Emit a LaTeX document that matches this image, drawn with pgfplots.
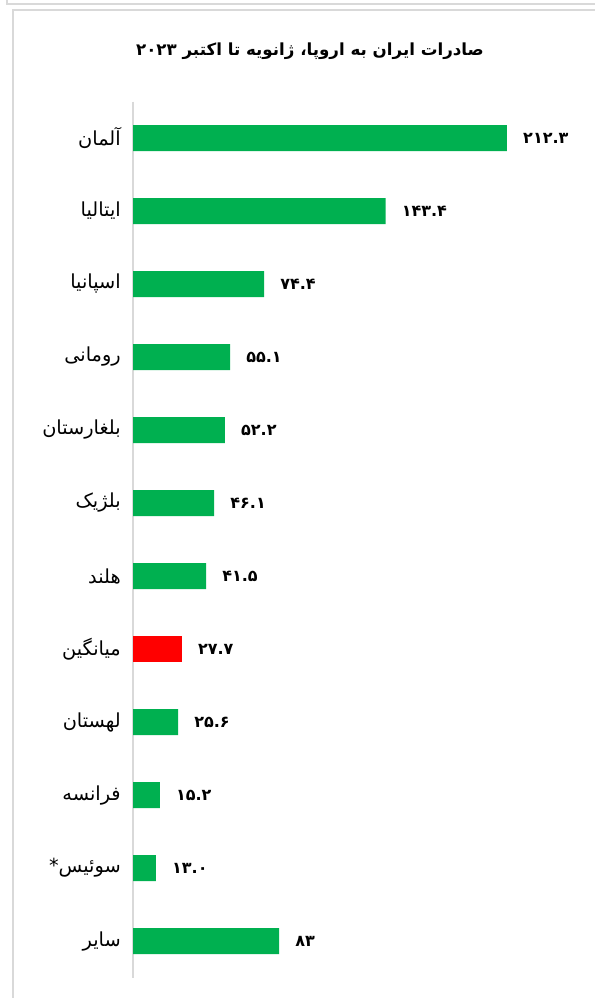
\documentclass[border=0pt]{standalone}
\usepackage{fontspec}
\usepackage{pgfplots}
\pgfplotsset{compat=1.18}
\TeXXeTstate=1
\newfontfamily\arabicfont[Script=Arabic]{DejaVu Sans}
\definecolor{xgreen}{HTML}{00B050}
\definecolor{xred}{HTML}{FF0000}
\definecolor{frame}{HTML}{D9D9D9}
\begin{document}
\begin{tikzpicture}
\useasboundingbox (0,0) rectangle (446.25pt,-748.5pt);
\draw[frame, line width=1.1pt] (5.25pt,0pt) -- (5.25pt,-3pt) -- (446.25pt,-3pt);
\draw[frame, line width=1.1pt] (9.75pt,-748.5pt) -- (9.75pt,-7.5pt) -- (446.25pt,-7.5pt);
\node[font=\arabicfont\bfseries\fontsize{12.5}{15}\selectfont, inner sep=0pt] at (232.5pt,-38.25pt)
  {\beginR صادرات ایران به اروپا، ژانویه تا اکتبر \beginL۲۰۲۳\endL\endR};
\begin{axis}[
  at={(99.75pt,-76.125pt)}, anchor=north west,
  scale only axis, width=343.5pt, height=657pt,
  xmin=0, xmax=260, ymin=-0.5, ymax=11.5, y dir=reverse,
  axis x line=none, axis y line*=left,
  y axis line style={-, draw=frame, line width=1.1pt},
  major tick length=0pt,
  ytick={0,...,11},
  yticklabels={{\beginR آلمان\endR},{\beginR ایتالیا\endR},{\beginR اسپانیا\endR},{\beginR رومانی\endR},{\beginR بلغارستان\endR},{\beginR بلژیک\endR},{\beginR هلند\endR},{\beginR میانگین\endR},{\beginR لهستان\endR},{\beginR فرانسه\endR},{\beginR سوئیس*\endR},{\beginR سایر\endR}},
  yticklabel style={font=\arabicfont\fontsize{14.5}{17}\selectfont, anchor=east, inner sep=0pt, xshift=-9pt},
  xbar, bar width=19.5pt, bar shift=0pt,
  clip=false,
  point meta=explicit symbolic,
  nodes near coords={\pgfplotspointmeta},
  nodes near coords style={font=\arabicfont\bfseries\fontsize{12}{14}\selectfont, anchor=west, inner sep=0pt, xshift=12pt, text=black},
]
\addplot[fill=xgreen, draw=none] table[x=val, y=idx, meta=lab] {
idx val lab
0 212.3 ۲۱۲.۳
1 143.4 ۱۴۳.۴
2 74.4 ۷۴.۴
3 55.1 ۵۵.۱
4 52.2 ۵۲.۲
5 46.1 ۴۶.۱
6 41.5 ۴۱.۵
8 25.6 ۲۵.۶
9 15.2 ۱۵.۲
10 13.0 ۱۳.۰
11 83 ۸۳
};
\addplot[fill=xred, draw=none] table[x=val, y=idx, meta=lab] {
idx val lab
7 27.7 ۲۷.۷
};
\end{axis}
\end{tikzpicture}
\end{document}
